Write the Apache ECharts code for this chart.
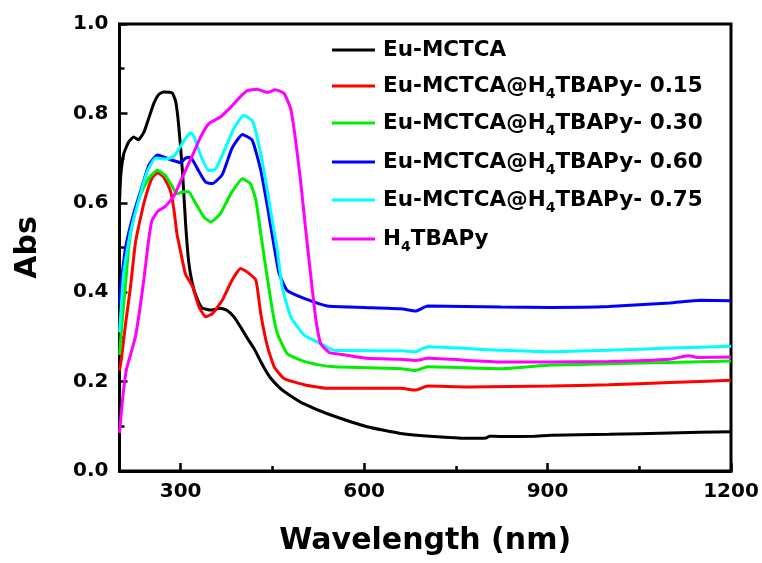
<!DOCTYPE html>
<html>
<head>
<meta charset="utf-8">
<script src="https://cdn.jsdelivr.net/npm/echarts@6/dist/echarts.min.js"></script>
<style>
  html, body { margin: 0; padding: 0; background: #fff; }
  #chart { width: 762px; height: 563px; }
</style>
</head>
<body>
<div id="chart"></div>
<script>
// UV-Vis absorption spectra, wavelength (nm) vs absorbance

const blackWl  = [200, 202, 207, 215, 223, 231, 240, 248, 256, 264, 272, 286, 292, 297, 303, 308, 313, 319, 327, 335, 349, 365, 375, 387, 398, 410, 420, 436, 447, 463, 480, 502, 540, 605, 660, 714, 769, 800, 805, 824, 878, 905, 1000, 1100, 1200];
const blackAbs = [0.60, 0.66, 0.71, 0.736, 0.747, 0.741, 0.758, 0.79, 0.822, 0.842, 0.848, 0.846, 0.826, 0.77, 0.67, 0.555, 0.47, 0.42, 0.385, 0.365, 0.36, 0.364, 0.36, 0.345, 0.322, 0.295, 0.274, 0.232, 0.208, 0.185, 0.168, 0.15, 0.128, 0.099, 0.084, 0.077, 0.073, 0.074, 0.078, 0.077, 0.078, 0.08, 0.082, 0.085, 0.088];

const redWl  = [200, 203, 210, 218, 226, 235, 243, 253, 262, 272, 283, 289, 294, 300, 308, 319, 330, 341, 352, 368, 384, 398, 409, 423, 431, 442, 453, 469, 502, 540, 600, 660, 684, 704, 769, 905, 1000, 1100, 1200];
const redAbs = [0.225, 0.25, 0.33, 0.412, 0.51, 0.57, 0.615, 0.655, 0.667, 0.658, 0.628, 0.585, 0.53, 0.49, 0.44, 0.414, 0.367, 0.345, 0.352, 0.382, 0.427, 0.453, 0.445, 0.427, 0.352, 0.278, 0.233, 0.207, 0.193, 0.185, 0.185, 0.185, 0.181, 0.19, 0.188, 0.19, 0.193, 0.198, 0.203];

const greenWl  = [200, 204, 210, 215, 222, 232, 240, 248, 262, 275, 286, 294, 305, 313, 324, 338, 349, 365, 382, 401, 414, 423, 431, 439, 450, 458, 474, 496, 524, 551, 660, 684, 704, 824, 905, 1000, 1100, 1200];
const greenAbs = [0.26, 0.33, 0.42, 0.5, 0.56, 0.61, 0.635, 0.655, 0.673, 0.661, 0.637, 0.62, 0.625, 0.625, 0.6, 0.568, 0.557, 0.576, 0.62, 0.654, 0.643, 0.606, 0.531, 0.457, 0.36, 0.308, 0.263, 0.248, 0.238, 0.233, 0.229, 0.225, 0.233, 0.229, 0.237, 0.24, 0.243, 0.246];

const blueWl  = [200, 202, 210, 223, 237, 248, 262, 275, 289, 300, 308, 316, 322, 330, 341, 352, 368, 384, 401, 417, 431, 442, 453, 461, 474, 502, 540, 600, 660, 684, 704, 824, 905, 1000, 1100, 1150, 1200];
const blueAbs = [0.375, 0.41, 0.5, 0.575, 0.637, 0.684, 0.707, 0.701, 0.694, 0.69, 0.7, 0.702, 0.69, 0.67, 0.646, 0.643, 0.663, 0.722, 0.753, 0.74, 0.673, 0.591, 0.501, 0.442, 0.404, 0.386, 0.369, 0.366, 0.363, 0.358, 0.369, 0.367, 0.366, 0.368, 0.376, 0.382, 0.381];

const cyanWl  = [200, 202, 207, 218, 232, 245, 259, 275, 289, 300, 311, 317, 322, 333, 346, 357, 373, 387, 403, 417, 425, 436, 447, 458, 466, 480, 502, 529, 551, 660, 684, 704, 824, 905, 1000, 1100, 1200];
const cyanAbs = [0.31, 0.35, 0.445, 0.535, 0.609, 0.669, 0.7, 0.698, 0.704, 0.727, 0.75, 0.756, 0.748, 0.705, 0.672, 0.675, 0.722, 0.766, 0.796, 0.784, 0.747, 0.673, 0.583, 0.494, 0.412, 0.345, 0.304, 0.285, 0.27, 0.269, 0.267, 0.278, 0.27, 0.267, 0.27, 0.275, 0.279];

const magentaWl  = [200, 205, 211, 218, 226, 233, 240, 247, 253, 262, 275, 289, 303, 319, 333, 346, 365, 382, 398, 409, 425, 442, 455, 469, 480, 488, 496, 504, 513, 521, 529, 543, 556, 605, 660, 684, 704, 824, 905, 1000, 1100, 1130, 1145, 1200];
const magentaAbs = [0.085, 0.16, 0.225, 0.26, 0.3, 0.36, 0.43, 0.51, 0.56, 0.58, 0.592, 0.615, 0.658, 0.705, 0.748, 0.777, 0.792, 0.814, 0.838, 0.851, 0.854, 0.847, 0.853, 0.845, 0.81, 0.74, 0.65, 0.546, 0.434, 0.34, 0.285, 0.265, 0.262, 0.252, 0.25, 0.247, 0.252, 0.244, 0.244, 0.245, 0.25, 0.258, 0.254, 0.255];

const seriesNames = ['Eu-MCTCA', 'Eu-MCTCA@H4TBAPy- 0.15', 'Eu-MCTCA@H4TBAPy- 0.30', 'Eu-MCTCA@H4TBAPy- 0.60', 'Eu-MCTCA@H4TBAPy- 0.75', 'H4TBAPy'];
const seriesColors = ['#000000', '#ff0000', '#00ee00', '#0000ff', '#00ffff', '#ff00ff'];
const xTickValues = [300, 600, 900, 1200];
const xMinorTickValues = [450, 750, 1050];

const FONT = 'DejaVu Sans';
const pairs = (xs, ys) => xs.map((x, i) => [x, ys[i]]);
const seriesData = [
  pairs(blackWl, blackAbs),
  pairs(redWl, redAbs),
  pairs(greenWl, greenAbs),
  pairs(blueWl, blueAbs),
  pairs(cyanWl, cyanAbs),
  pairs(magentaWl, magentaAbs)
];

// legend label with the "4" of H4 set as a subscript
function legendLabel(name) {
  const i = name.indexOf('H4');
  if (i < 0) return '{b|' + name + '}';
  const head = name.slice(0, i + 1);
  const tail = name.slice(i + 2);
  return '{b|' + head + '}' + '{s|4}' + '{b|' + tail + '}';
}

const legendRowsY = [54, 86, 123, 162, 200, 239];
const legends = seriesNames.map((name, i) => ({
  data: [name],
  left: 332,
  top: legendRowsY[i] - 15,
  padding: 0,
  itemWidth: 43,
  itemHeight: 3,
  icon: 'rect',
  selectedMode: false,
  formatter: legendLabel,
  textStyle: {
    padding: [0, 0, 0, 3],
    rich: {
      b: { fontFamily: FONT, fontWeight: 'bold', fontSize: 21.5, color: '#000', lineHeight: 30 },
      s: { fontFamily: FONT, fontWeight: 'bold', fontSize: 14, color: '#000', lineHeight: 14, verticalAlign: 'bottom', padding: [16, 0, 0, 0] }
    }
  }
}));

const chart = echarts.init(document.getElementById('chart'), null, { renderer: 'canvas' });
chart.setOption({
  animation: false,
  backgroundColor: '#ffffff',
  grid: {
    left: 119.5, right: 31, top: 24, bottom: 92,
    show: true, borderColor: '#000', borderWidth: 3, backgroundColor: 'transparent'
  },
  legend: legends,
  xAxis: [
    {
      type: 'value', min: 200, max: 1200,
      name: 'Wavelength (nm)', nameLocation: 'middle', nameGap: 55,
      nameTextStyle: { fontFamily: FONT, fontWeight: 'bold', fontSize: 30, color: '#000' },
      axisLine: { show: true, onZero: false, lineStyle: { color: '#000', width: 3 } },
      axisTick: { show: true, inside: true, length: 8, customValues: xTickValues, lineStyle: { color: '#000', width: 2.5 } },
      axisLabel: { show: true, customValues: xTickValues, margin: 11, fontFamily: FONT, fontWeight: 'bold', fontSize: 20, color: '#000', formatter: v => String(v) },
      splitLine: { show: false }
    },
    {
      type: 'value', min: 200, max: 1200, position: 'bottom',
      axisLine: { show: false },
      axisTick: { show: true, inside: true, length: 5, customValues: xMinorTickValues, lineStyle: { color: '#000', width: 2.5 } },
      axisLabel: { show: false },
      splitLine: { show: false }
    }
  ],
  yAxis: {
    type: 'value', min: 0, max: 1.0, interval: 0.2,
    name: 'Abs', nameLocation: 'middle', nameGap: 76, nameRotate: 90,
    nameTextStyle: { fontFamily: FONT, fontWeight: 'bold', fontSize: 30, color: '#000' },
    axisLine: { show: true, onZero: false, lineStyle: { color: '#000', width: 3 } },
    axisTick: { show: true, inside: true, length: 8, lineStyle: { color: '#000', width: 2.5 } },
    minorTick: { show: true, splitNumber: 2, length: 5, lineStyle: { color: '#000', width: 2.5 } },
    axisLabel: { margin: 11, fontFamily: FONT, fontWeight: 'bold', fontSize: 20, color: '#000', formatter: v => v.toFixed(1) },
    splitLine: { show: false }
  },
  series: seriesNames.map((name, i) => ({
    name: name,
    type: 'line',
    xAxisIndex: 0,
    data: seriesData[i],
    showSymbol: false,
    symbol: 'none',
    smooth: 0.15,
    color: seriesColors[i],
    lineStyle: { color: seriesColors[i], width: 3 },
    z: 2 + i
  }))
});
</script>
</body>
</html>
